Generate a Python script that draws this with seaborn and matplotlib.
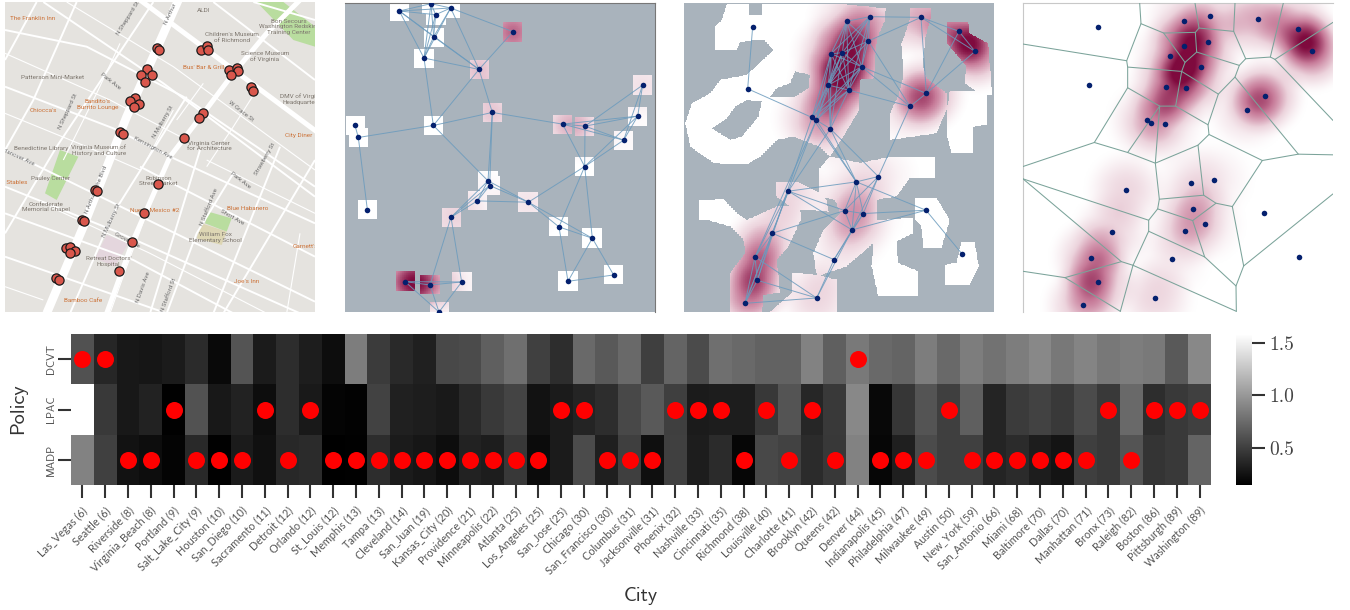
import numpy as np
import pandas as pd
import seaborn as sns
import matplotlib.pyplot as plt
from matplotlib.colors import LinearSegmentedColormap
from matplotlib.path import Path

# heatmap data
cities = ['Las_Vegas (6)', 'Seattle (6)', 'Riverside (8)', 'Virginia_Beach (8)', 'Portland (9)',
          'Salt_Lake_City (9)', 'Houston (10)', 'San_Diego (10)', 'Sacramento (11)', 'Detroit (12)',
          'Orlando (12)', 'St_Louis (12)', 'Memphis (13)', 'Tampa (13)', 'Cleveland (14)',
          'San_Juan (19)', 'Kansas_City (20)', 'Providence (21)', 'Minneapolis (22)', 'Atlanta (25)',
          'Los_Angeles (25)', 'San_Jose (25)', 'Chicago (30)', 'San_Francisco (30)', 'Columbus (31)',
          'Jacksonville (31)', 'Phoenix (32)', 'Nashville (33)', 'Cincinnati (35)', 'Richmond (38)',
          'Louisville (40)', 'Charlotte (41)', 'Brooklyn (42)', 'Queens (42)', 'Denver (44)',
          'Indianapolis (45)', 'Philadelphia (47)', 'Milwaukee (49)', 'Austin (50)', 'New_York (59)',
          'San_Antonio (66)', 'Miami (68)', 'Baltimore (70)', 'Dallas (70)', 'Manhattan (71)',
          'Bronx (73)', 'Raleigh (82)', 'Boston (86)', 'Pittsburgh (89)', 'Washington (89)']
policies = ['DCVT', 'LPAC', 'MADP']
dcvt = [.60, .36, .28, .27, .30, .39, .20, .62, .30, .40, .31, .22, .85, .48, .38, .33, .55, .57, .68, .77,
        .51, .40, .74, .65, .74, .50, .71, .57, .77, .74, .70, .70, .88, .68, .83, .74, .71, .85, .74, .85,
        .79, .85, .91, .82, .89, .82, .85, .83, .65, .91]
lpac = [np.nan, .47, .28, .34, .156, .61, .28, .34, .22, .40, .29, .17, .16, .52, .33, .31, .29, .38, .47, .53,
        .25, .30, .35, .40, .55, .65, .50, .30, .31, .31, .46, .62, .36, .47, .91, .19, .45, .62, .50, .68,
        .35, .48, .52, .47, .57, .47, .74, .40, .47, .51]
madp = [.88, .51, .25, .22, .17, .38, .156, .30, .235, .37, .39, .145, .156, .40, .30, .27, .22, .34, .31, .46,
        .21, .30, .57, .32, .50, .23, .51, .31, .39, .18, .55, .52, .39, .46, .88, .18, .32, .57, .50, .51,
        .35, .39, .31, .26, .50, .47, .62, .44, .47, .71]
best_policy = ['DCVT', 'DCVT', 'MADP', 'MADP', 'LPAC', 'MADP', 'MADP', 'MADP', 'LPAC', 'MADP',
               'LPAC', 'MADP', 'MADP', 'MADP', 'MADP', 'MADP', 'MADP', 'MADP', 'MADP', 'MADP',
               'MADP', 'LPAC', 'LPAC', 'MADP', 'MADP', 'MADP', 'LPAC', 'LPAC', 'LPAC', 'MADP',
               'LPAC', 'MADP', 'LPAC', 'MADP', 'DCVT', 'MADP', 'MADP', 'MADP', 'LPAC', 'MADP',
               'MADP', 'MADP', 'MADP', 'MADP', 'MADP', 'LPAC', 'MADP', 'LPAC', 'LPAC', 'LPAC']

# map panel
map_x = [470, 478, 602, 620, 625, 688, 710, 714, 693, 752, 758, 442, 423, 455, 436, 406, 391, 418, 403, 608, 597,
         360, 369, 553, 473, 284, 292, 433, 247, 253, 395, 198, 211, 225, 211, 357, 168, 177]
map_y = [143, 149, 150, 137, 151, 211, 203, 213, 226, 262, 272, 206, 225, 225, 245, 293, 304, 313, 322, 340, 355,
         397, 402, 413, 551, 571, 574, 638, 659, 662, 727, 744, 740, 753, 760, 814, 835, 839]
big_roads = [[(140, 940), (250, 680), (380, 350), (535, 0)]]
mid_roads = [[(420, 0), (950, 395)],
             [(320, 940), (400, 720), (510, 470), (610, 340), (700, 220), (800, 100), (900, 0)]]
small_roads = [[(130, 6), (490, 250), (945, 590)], [(15, 260), (340, 385), (510, 470), (945, 670)],
               [(15, 450), (945, 905)], [(15, 560), (350, 695), (900, 940)], [(15, 770), (500, 940)],
               [(15, 90), (260, 140), (550, 290), (945, 560)], [(460, 6), (170, 440), (15, 700)],
               [(110, 6), (15, 180)], [(230, 6), (100, 300), (15, 450)], [(560, 290), (340, 640), (210, 940)],
               [(945, 480), (670, 940)], [(700, 520), (590, 700), (500, 940)], [(840, 440), (640, 940)],
               [(640, 6), (945, 240)], [(15, 640), (400, 780), (700, 940)], [(600, 450), (450, 940)],
               [(760, 6), (945, 60)], [(420, 500), (945, 770)]]
thin_roads = [[(15, 160), (330, 300), (560, 420)], [(15, 340), (260, 440), (420, 510)], [(200, 6), (520, 200), (945, 510)],
              [(520, 330), (440, 480)], [(620, 480), (945, 640)], [(150, 620), (450, 760), (800, 940)],
              [(360, 130), (290, 280), (190, 480)], [(470, 560), (380, 800), (330, 940)], [(610, 250), (530, 360)],
              [(770, 270), (700, 380), (620, 500)], [(15, 860), (130, 900)], [(900, 700), (860, 940)]]
parks = [[(770, 6), (850, 6), (945, 80), (945, 140), (880, 120)],
         [(180, 450), (235, 470), (170, 600), (135, 580)],
         [(625, 635), (695, 655), (680, 695), (615, 670)]]
school = [(605, 670), (680, 695), (665, 735), (590, 715)]
hospital = [(320, 705), (385, 730), (345, 800), (285, 775)]
orange_labels = [('The Franklin Inn', 97, 55), ("Bus' Bar & Grill", 612, 202), ("Bandito's\nBurrito Lounge", 293, 313),
                 ("Chiocca's", 131, 333), ('City Diner', 895, 407), ('w Stables', 40, 548), ('Nuevo Mexico #2', 463, 631),
                 ('Blue Habanero', 742, 625), ("Joe's Inn", 740, 845), ("Garnett's", 915, 738), ('Bamboo Cafe', 250, 902)]
gray_labels = [('ALDI', 612, 32), ("Children's Museum\nof Richmond", 695, 112), ('Science Museum\nof Virginia', 795, 170),
               ('Bon Secours\nWashington Redskins\nTraining Center', 867, 80), ('Patterson Mini-Market', 157, 233),
               ('DMV of Virginia\nHeadquarters', 905, 298), ('Virginia Center\nfor Architecture', 628, 438),
               ('Benedictine Library', 124, 445), ('Virginia Museum of\nHistory and Culture', 296, 450),
               ('Robinson\nStreet Market', 475, 543), ('Pauley Center', 152, 535),
               ('Confederate\nMemorial Chapel', 137, 621), ('William Fox\nElementary School', 645, 712),
               ("Retreat Doctors'\nHospital", 325, 785)]
street_labels = [('N Arthur Ashe Blvd', 290, 570, 68), ('N Sheppard St', 385, 55, 58), ('N Sheppard St', 205, 335, 65),
                 ('Park Ave', 332, 245, -38), ('Park Ave', 722, 540, -38), ('W Grace St', 722, 333, -38),
                 ('Kensington Ave', 458, 442, -28), ('N Mulberry St', 490, 365, 60), ('N Mulberry St', 335, 660, 65),
                 ('Strawberry St', 795, 478, 60), ('N Stafford Ave', 627, 620, 68), ('Short Ave', 697, 653, -30),
                 ('Grove Ave', 382, 722, -28), ('N Davis Ave', 430, 860, 70), ('N Stafford St', 505, 885, 70),
                 ('Hanover Ave', 55, 470, -25), ('N Arthur', 512, 42, 65)]

# square panel
sq_x = [178, 273, 332, 287, 281, 252, 519, 417, 457, 280, 45, 55, 82, 444, 449, 412, 565, 333, 668, 735, 908, 893,
        851, 734, 657, 757, 684, 821, 195, 270, 365, 297]
sq_y = [34, 12, 25, 45, 111, 175, 96, 209, 338, 377, 377, 413, 629, 543, 557, 603, 607, 652, 373, 379, 256, 349,
        421, 500, 681, 715, 844, 825, 845, 855, 846, 936]
sq_w = [0, 0, 0, 0, 0, 0, .72, .4, .38, 0, 0, 0, 0, 0, 0, .1, .2, .3, .3, .25, .22, 0, .05, 0, 0, 0, 0, 0,
        .72, .5, .1, 0]
sq_edges = [(0, 1), (0, 2), (0, 3), (0, 4), (0, 5), (1, 2), (1, 3), (1, 4), (1, 5), (2, 3), (2, 4), (2, 5), (3, 4),
            (3, 5), (4, 5), (2, 6), (2, 7), (0, 7), (4, 7), (5, 7), (6, 7), (5, 9), (7, 9), (7, 8), (8, 9), (9, 11),
            (10, 11), (11, 12), (8, 13), (8, 14), (9, 13), (8, 18), (18, 19), (18, 22), (19, 22), (18, 21), (19, 21),
            (19, 20), (20, 21), (20, 22), (21, 22), (18, 23), (19, 23), (22, 23), (21, 23), (23, 16), (23, 24), (23, 25),
            (13, 16), (14, 16), (13, 15), (14, 15), (15, 16), (13, 17), (14, 17), (15, 17), (16, 24), (16, 25), (24, 25),
            (24, 26), (25, 26), (26, 27), (25, 27), (17, 29), (17, 30), (28, 29), (28, 30), (29, 30), (28, 31), (29, 31),
            (30, 31)]

# blob panel
blob_x = [218, 203, 500, 569, 723, 837, 885, 565, 453, 487, 545, 445, 506, 739, 690, 396, 409, 451, 529, 595, 325,
          494, 550, 738, 516, 277, 225, 462, 847, 232, 410, 195]
blob_y = [81, 267, 65, 51, 53, 95, 155, 124, 162, 159, 201, 256, 271, 281, 320, 353, 361, 387, 546, 530, 574, 632,
          641, 631, 690, 700, 771, 779, 763, 841, 894, 910]
blob_w = [0, 0, .28, .28, .5, .52, .7, .28, .38, .25, .32, .42, .42, .62, .28, .25, .13, .23, .15, .15, .3, .2, .2, 0,
          .25, .3, .42, .13, 0, .42, .3, .44]
blob_edges = [(0, 1), (1, 15), (2, 3), (2, 7), (2, 8), (2, 9), (2, 10), (2, 11), (2, 12), (3, 4), (3, 7), (3, 8), (3, 9),
              (3, 10), (3, 11), (3, 12), (4, 7), (4, 5), (4, 6), (4, 13), (5, 6), (5, 13), (6, 13), (7, 9), (7, 10),
              (7, 11), (7, 14), (8, 9), (8, 10), (8, 11), (8, 12), (8, 15), (8, 16), (8, 17), (9, 10), (9, 11), (9, 12),
              (9, 15), (9, 16), (9, 17), (10, 11), (10, 12), (10, 14), (10, 13), (10, 15), (10, 16), (11, 12), (11, 15),
              (11, 16), (11, 17), (12, 14), (12, 15), (12, 16), (12, 17), (13, 14), (14, 19), (15, 16), (15, 17), (15, 18),
              (16, 18), (17, 18), (17, 19), (15, 29), (16, 26), (17, 20), (20, 25), (20, 18), (20, 21), (20, 24), (20, 26),
              (20, 31), (16, 20), (18, 19), (18, 21), (18, 22), (18, 23), (18, 24), (19, 21), (19, 22), (19, 24), (21, 22),
              (21, 24), (21, 25), (22, 23), (22, 24), (23, 24), (23, 28), (24, 27), (22, 27), (25, 26), (25, 27), (25, 29),
              (25, 31), (26, 29), (26, 31), (26, 30), (29, 31), (29, 30), (30, 31), (24, 30), (27, 30)]
white_areas = [
    [(140, 10), (205, 10), (205, 45), (245, 45), (245, 10), (430, 10), (520, 15), (618, 25), (615, 60), (590, 120),
     (582, 235), (540, 240), (538, 330), (490, 410), (450, 470), (418, 440), (340, 410), (290, 420), (240, 470),
     (200, 495), (100, 490), (30, 440), (15, 370), (35, 310), (90, 280), (120, 240), (200, 225), (280, 150), (250, 118),
     (180, 125), (170, 150), (103, 150), (103, 80), (125, 60)],
    [(450, 470), (540, 490), (640, 470), (765, 470), (765, 535), (690, 535), (650, 590), (590, 600), (590, 660),
     (700, 655), (700, 700), (650, 725), (655, 790), (715, 815), (715, 890), (595, 890), (575, 800), (580, 730),
     (500, 800), (410, 830), (400, 760), (430, 690), (480, 640), (465, 600), (415, 590), (415, 510)],
    [(55, 600), (130, 598), (170, 640), (200, 660), (290, 620), (360, 620), (362, 660), (325, 740), (290, 780), (300, 880),
     (250, 885), (245, 936), (150, 936), (150, 820), (195, 760), (190, 720), (150, 680), (80, 660), (55, 660)],
    [(288, 545), (350, 545), (420, 580), (440, 600), (445, 635), (365, 630), (330, 620), (288, 590)],
    [(335, 820), (410, 825), (470, 840), (470, 936), (270, 936), (335, 880)],
    [(800, 65), (865, 65), (870, 100), (925, 130), (930, 190), (938, 285), (905, 285), (855, 250), (860, 200), (815, 145),
     (800, 130)],
    [(690, 25), (752, 25), (752, 55), (735, 120), (730, 200), (740, 235), (800, 280), (800, 330), (770, 400), (630, 420),
     (630, 340), (655, 290), (670, 230), (665, 130), (690, 60)],
    [(810, 275), (920, 275), (920, 375), (880, 380), (880, 460), (815, 460), (800, 400), (800, 340)],
    [(705, 595), (770, 595), (810, 660), (785, 745), (730, 745), (725, 680), (705, 660)],
    [(845, 725), (885, 725), (897, 800), (870, 855), (795, 855), (795, 795), (830, 790)],
]
gray_holes = [[(95, 385), (140, 355), (165, 320), (200, 300), (245, 305), (235, 350), (185, 410), (150, 420)],
              [(345, 215), (390, 225), (385, 265), (345, 290), (270, 290), (290, 265), (330, 250)]]

# voronoi panel
vor_x = [250, 222, 506, 586, 730, 848, 891, 580, 506, 464, 557, 452, 514, 749, 697, 396, 408, 450, 527, 596, 333, 533,
         569, 747, 510, 291, 228, 471, 853, 248, 420, 204]
vor_y = [83, 255, 63, 49, 58, 88, 154, 128, 139, 169, 202, 263, 266, 288, 330, 361, 369, 373, 548, 539, 571, 628, 673,
         638, 693, 696, 773, 777, 771, 845, 893, 916]
vor_lines = [[(374, 10), (378, 72), (335, 183), (338, 202), (338, 264), (238, 428), (24, 500)],
             [(24, 133), (335, 183)],
             [(378, 72), (446, 100), (541, 98), (552, 85), (656, 95), (692, 177), (673, 197), (660, 232), (610, 283),
              (579, 375), (582, 404), (549, 436), (421, 490), (338, 458), (238, 428)],
             [(540, 10), (552, 85)], [(660, 10), (656, 95)], [(805, 10), (766, 172), (692, 177)], [(766, 172), (780, 179)],
             [(446, 100), (510, 188)],
             [(541, 98), (545, 157), (510, 188), (500, 215), (482, 319), (434, 319), (338, 458)], [(338, 202), (500, 215)],
             [(545, 157), (673, 197)], [(500, 215), (610, 283)],
             [(434, 319), (421, 490), (433, 598), (428, 627), (401, 661), (401, 694), (354, 796), (316, 934)],
             [(482, 319), (579, 375)], [(338, 264), (434, 319)], [(660, 232), (850, 463), (954, 465)],
             [(582, 404), (742, 482), (850, 463)], [(780, 179), (954, 68)], [(780, 179), (954, 362)],
             [(742, 482), (652, 620), (686, 798), (663, 858), (664, 934)], [(686, 798), (954, 582)],
             [(652, 620), (603, 610), (566, 586), (549, 436)], [(566, 586), (433, 598)],
             [(603, 610), (533, 662), (428, 627)], [(533, 662), (569, 771), (663, 858)], [(569, 771), (401, 694)],
             [(354, 796), (664, 934)], [(24, 537), (401, 661)], [(24, 537), (319, 785), (354, 796)],
             [(319, 785), (150, 833), (24, 814)], [(150, 833), (316, 934)]]

sns.set_theme(style='ticks')
plt.rcParams['font.family'] = ['cmss10', 'DejaVu Sans']
plt.rcParams['axes.unicode_minus'] = False

fig = plt.figure(figsize=(13.5, 6.1), dpi=100)
W, H = 1350, 610


def panel(x, y, w, h):
    return fig.add_axes([x / W, 1 - (y + h) / H, w / W, h / H])


heat_cmap = LinearSegmentedColormap.from_list('heat', ['#ffffff', '#ecd3dc', '#c77b99', '#7f0a3e'])
node_color = '#04206e'
edge_color = '#6b9bbd'


def heat_field(xs, ys, weights, radius, gx, gy):
    field = np.zeros_like(gx)
    for x, y, w in zip(xs, ys, weights):
        r2 = ((gx - x) ** 2 + (gy - y) ** 2) / radius ** 2
        field += w * np.clip(1 - r2, 0, 1) ** 2
    return np.clip(field, 0, 1)


def grid(xlim, ylim):
    gx, gy = np.meshgrid(np.linspace(xlim[0], xlim[1], 465), np.linspace(ylim[0], ylim[1], 465))
    return gx, gy


def draw_nodes(ax, xs, ys):
    sns.scatterplot(x=xs, y=ys, ax=ax, color=node_color, s=16, linewidth=0, zorder=5, clip_on=True)


def draw_edges(ax, xs, ys, edges):
    for a, b in edges:
        ax.plot([xs[a], xs[b]], [ys[a], ys[b]], color=edge_color, lw=0.7, alpha=0.85, zorder=4)


def finish(ax, xlim, ylim):
    ax.set_xlim(*xlim)
    ax.set_ylim(ylim[1], ylim[0])
    ax.set_xticks([])
    ax.set_yticks([])


# panel 1: street map
lim = ((15, 945), (6, 936))
ax = panel(5, 2, 310, 310)
ax.set_facecolor('#e5e3df')
for p in parks:
    ax.fill(*zip(*p), color='#b9dd9f', lw=0, zorder=1)
ax.fill(*zip(*school), color='#ddd6b4', lw=0, zorder=1)
ax.fill(*zip(*hospital), color='#e4d6dd', lw=0, zorder=1)
for roads, lw in ((thin_roads, 0.8), (small_roads, 1.4), (mid_roads, 3.6), (big_roads, 6.2)):
    for r in roads:
        ax.plot(*zip(*r), color='white', lw=lw, solid_capstyle='butt', zorder=2)
for t, x, y in orange_labels:
    ax.text(x, y, t, color='#cc7238', fontsize=4.6, ha='center', va='center', family='Roboto', clip_on=True, zorder=3)
for t, x, y in gray_labels:
    ax.text(x, y, t, color='#7d766e', fontsize=4.6, ha='center', va='center', family='Roboto', clip_on=True, zorder=3,
            linespacing=1.1)
for t, x, y, rot in street_labels:
    ax.text(x, y, t, color='#6e6e6e', fontsize=4.4, ha='center', va='center', rotation=rot, family='Roboto', clip_on=True,
            zorder=3)
sns.scatterplot(x=map_x, y=map_y, ax=ax, color='#d9574c', edgecolor='#1a1a1a', s=44, linewidth=0.9, zorder=5)
finish(ax, *lim)
sns.despine(ax=ax, left=True, bottom=True)

# panel 2: white squares around nodes
lim = ((15, 945), (10, 936))
ax = panel(345, 3, 310, 309)
ax.set_facecolor('#a9b3bc')
gx, gy = grid(*lim)
field = heat_field(sq_x, sq_y, sq_w, 125, gx, gy)
rgba = heat_cmap(field)
mask = np.zeros_like(gx, dtype=bool)
for x, y in zip(sq_x, sq_y):
    mask |= (np.abs(gx - x) < 29) & (np.abs(gy - y) < 29)
rgba[..., 3] = mask
ax.imshow(rgba, extent=(lim[0][0], lim[0][1], lim[1][1], lim[1][0]), aspect='auto', interpolation='nearest', zorder=1)
draw_edges(ax, sq_x, sq_y, sq_edges)
draw_nodes(ax, sq_x, sq_y)
finish(ax, *lim)
for s in ('left', 'bottom'):
    ax.spines[s].set_visible(False)
for s in ('top', 'right'):
    ax.spines[s].set_color('#777777')
    ax.spines[s].set_linewidth(0.8)

# panel 3: coverage blobs
lim = ((12, 942), (10, 936))
ax = panel(684, 3, 310, 309)
ax.set_facecolor('#a9b3bc')
gx, gy = grid(*lim)
points = np.column_stack([gx.ravel(), gy.ravel()])
mask = np.zeros(gx.size, dtype=bool)
for poly in white_areas:
    mask |= Path(poly).contains_points(points)
for poly in gray_holes:
    mask &= ~Path(poly).contains_points(points)
field = heat_field(blob_x, blob_y, blob_w, 135, gx, gy)
rgba = heat_cmap(field)
rgba[..., 3] = mask.reshape(gx.shape)
ax.imshow(rgba, extent=(lim[0][0], lim[0][1], lim[1][1], lim[1][0]), aspect='auto', interpolation='nearest', zorder=1)
draw_edges(ax, blob_x, blob_y, blob_edges)
draw_nodes(ax, blob_x, blob_y)
finish(ax, *lim)
sns.despine(ax=ax, left=True, bottom=True, right=True, top=True)

# panel 4: voronoi cells
lim = ((24, 954), (10, 936))
ax = panel(1023, 3, 310, 309)
gx, gy = grid(*lim)
field = heat_field(vor_x, vor_y, blob_w, 135, gx, gy)
ax.imshow(heat_cmap(field), extent=(lim[0][0], lim[0][1], lim[1][1], lim[1][0]), aspect='auto', zorder=1)
for line in vor_lines:
    ax.plot(*zip(*line), color='#7ba39a', lw=0.75, zorder=4)
draw_nodes(ax, vor_x, vor_y)
finish(ax, *lim)
for s in ('right', 'bottom'):
    ax.spines[s].set_visible(False)
for s in ('left', 'top'):
    ax.spines[s].set_color('#c8c8c8')
    ax.spines[s].set_linewidth(0.8)

# heatmap with the best policy marked per city
df = pd.DataFrame({'DCVT': dcvt, 'LPAC': lpac, 'MADP': madp}, index=cities).T
ax = panel(71, 334, 1140, 151)
cax = panel(1236, 334, 16, 151)
sns.heatmap(df, ax=ax, cbar_ax=cax, cmap='gray', vmin=0.145, vmax=1.583, linewidths=0,
            xticklabels=True, yticklabels=True)
best = pd.DataFrame({'x': np.arange(len(cities)) + 0.5,
                     'y': [policies.index(p) + 0.5 for p in best_policy]})
sns.scatterplot(data=best, x='x', y='y', ax=ax, color='#ff0000', s=150, linewidth=0, legend=False, zorder=5, clip_on=False)
ax.set_xlim(0, len(cities))
ax.set_ylim(len(policies), 0)
ax.tick_params(axis='both', length=9.4, width=1.5, color='#333333', labelcolor='#555555')
ax.tick_params(axis='x', pad=5)
ax.tick_params(axis='y', pad=1.5)
ax.set_xticks(np.arange(len(cities)) + 0.5)
# cmss10 has an empty underscore glyph, Lato shows it
ax.set_xticklabels(cities, rotation=45, ha='right', va='top', rotation_mode='anchor', fontsize=7.8, family='Lato')
ax.set_yticks(np.arange(len(policies)) + 0.5)
ax.set_yticklabels(policies, rotation=90, va='center', fontsize=8)
ax.set_xlabel('')
ax.set_ylabel('')
fig.text(641 / W, 1 - 596 / H, 'City', fontsize=14.5, color='#333333', ha='center', va='center')
fig.text(18 / W, 1 - 409 / H, 'Policy', fontsize=14.5, color='#333333', ha='center', va='center', rotation=90)

cax.set_yticks([0.5, 1.0, 1.5])
cax.set_yticklabels(['0.5', '1.0', '1.5'], family=['cmr10', 'DejaVu Serif'], fontsize=14, color='#444444')
cax.tick_params(axis='y', length=9, width=1.5, color='#333333')
for s in cax.spines.values():
    s.set_visible(False)

fig.savefig('out.png', dpi=100)
